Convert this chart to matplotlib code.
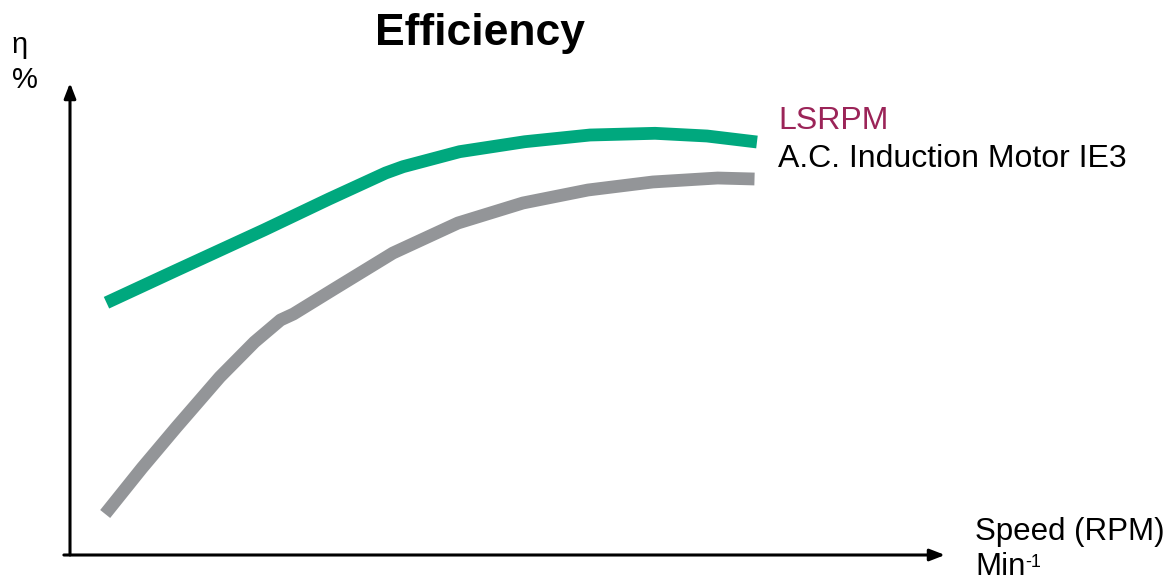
import matplotlib.pyplot as plt

plt.rcParams['font.family'] = ['Liberation Sans', 'DejaVu Sans']

# Кривая КПД LSRPM (скорость, %)
lsrpm_speed = [4.17, 12.23, 22.17, 29.6, 36.07, 38.06, 44.53, 51.98, 59.43, 66.86, 72.8, 78.51]
lsrpm_eff = [53.45, 60.38, 68.86, 75.42, 80.93, 82.27, 85.45, 87.56, 88.98, 89.34, 88.77, 87.5]

# Кривая КПД асинхронного двигателя IE3
ie3_speed = [4.02, 8.23, 12.18, 17.13, 21.09, 24.06, 25.54, 29.99, 36.91, 44.34, 51.77,
             59.2, 66.61, 74.02, 78.23]
ie3_eff = [8.69, 18.43, 27.12, 37.71, 45.13, 49.79, 51.06, 56.14, 63.98, 70.34, 74.58,
           77.33, 79.03, 79.87, 79.66]

green = '#00a87e'
gray = '#939598'

fig = plt.figure(figsize=(11.74, 5.83), dpi=100)
ax = fig.add_axes([70 / 1174, 28 / 583, 875 / 1174, 472 / 583])
ax.set_xlim(0, 100)
ax.set_ylim(0, 100)
ax.axis('off')

ax.plot(ie3_speed, ie3_eff, color=gray, lw=9.2, solid_capstyle='butt', solid_joinstyle='round')
ax.plot(lsrpm_speed, lsrpm_eff, color=green, lw=9.2, solid_capstyle='butt', solid_joinstyle='round')

# Оси со стрелками
arrow = dict(arrowstyle='-|>,head_length=0.9,head_width=0.35', color='black', lw=2.2,
             shrinkA=0, shrinkB=0)
ax.annotate('', xy=(1.0, 0), xytext=(-0.007, 0), xycoords='axes fraction', arrowprops=arrow)
ax.annotate('', xy=(0, 1.0), xytext=(0, 0), xycoords='axes fraction', arrowprops=arrow)

fig.text(480 / 1174, 1 - 33 / 583, 'Efficiency', fontsize=32, fontweight='bold',
         ha='center', va='center')
fig.text(12 / 1174, 1 - 45 / 583, 'η', fontsize=21, ha='left', va='center')
fig.text(12 / 1174, 1 - 80 / 583, '%', fontsize=21, ha='left', va='center')

fig.text(778 / 1174, 1 - 121 / 583, 'LSRPM', fontsize=23, color='#9b2458', ha='left', va='center')
fig.text(778 / 1174, 1 - 159 / 583, 'A.C. Induction Motor IE3', fontsize=23,
         ha='left', va='center')

fig.text(975 / 1174, 1 - 532 / 583, 'Speed (RPM)', fontsize=22.5, ha='left', va='center')
min_txt = fig.text(975 / 1174, 1 - 567 / 583, 'Min', fontsize=22.5, ha='left', va='center')
# верхний индекс -1 сразу после "Min"
ax.annotate('-1', xy=(1.0, 0.92), xycoords=min_txt, fontsize=13, ha='left', va='top',
            annotation_clip=False)

fig.savefig('out.png', dpi=100)
